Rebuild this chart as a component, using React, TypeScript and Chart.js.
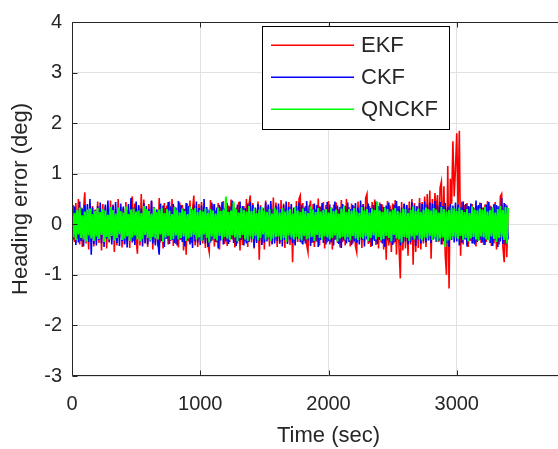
import { useEffect, useRef } from "react";
import { Chart, registerables } from "chart.js";

Chart.register(...registerables);

// sampling interval of the recorded series (sec)
const SAMPLE_INTERVAL_SEC = 10;

const SERIES_LABELS = ["EKF", "CKF", "QNCKF"];
const SERIES_COLORS = ["#ff0000", "#0000ff", "#00ff00"];
const SERIES_WIDTHS = [1.6, 1.6, 2.0];

const X_TICKS = [0, 1000, 2000, 3000];
const Y_TICKS = [-3, -2, -1, 0, 1, 2, 3, 4];
const X_MIN = 0;
const X_MAX = 4000;
const Y_MIN = -3;
const Y_MAX = 4;

const EKF = [
  -0.62, 0.38, -0.35, 0.42, -0.28, 0.5, -0.4, 0.33, -0.45, 0.3, 0.63, -0.38, 0.27, -0.5, 0.41, -0.3, 0.36, -0.44, 0.29, -0.33,
  0.45, -0.37, 0.31, -0.52, 0.4, -0.29, 0.35, -0.48, 0.26, -0.36, 0.47, -0.31, 0.39, -0.55, 0.3, -0.42, 0.5, -0.27, 0.34, -0.46,
  0.32, -0.4, 0.44, -0.35, 0.28, -0.47, 0.38, 0.55, -0.33, 0.41, -0.3, -0.58, 0.36, -0.42, 0.6, -0.29, 0.49, -0.38, 0.3, -0.45,
  0.4, -0.32, 0.46, -0.5, 0.33, -0.38, 0.29, -0.44, 0.52, -0.36, 0.31, -0.48, 0.42, -0.28, 0.37, -0.4, 0.45, -0.33, 0.5, -0.43,
  0.35, -0.39, 0.28, -0.46, 0.43, -0.31, 0.38, -0.52, 0.3, -0.6, 0.41, -0.34, 0.47, -0.37, 0.29, 0.57, -0.42, 0.33, -0.45, 0.4,
  -0.3, 0.44, -0.38, 0.36, -0.47, 0.31, -0.41, -0.55, 0.48, -0.33, 0.39, -0.44, 0.27, -0.36, 0.42, -0.5, 0.34, -0.29, 0.46, -0.39,
  0.31, -0.43, 0.37, -0.35, 0.49, -0.3, 0.4, -0.46, 0.33, -0.38, 0.44, -0.52, 0.28, -0.41, 0.36, -0.34, 0.5, -0.45, 0.39, 0.57,
  -0.36, 0.42, -0.48, 0.3, -0.33, 0.45, -0.7, 0.38, -0.4, 0.32, -0.5, 0.47, -0.29, 0.35, -0.44, 0.4, -0.37, 0.53, -0.31, 0.43,
  -0.45, 0.34, -0.39, 0.48, -0.32, 0.41, -0.47, 0.3, -0.36, 0.44, -0.41, 0.37, -0.75, 0.33, -0.4, 0.46, -0.35, 0.5, 0.57, -0.38,
  0.42, -0.33, 0.36, -0.41, -0.55, 0.31, 0.47, -0.37, 0.4, -0.45, 0.29, -0.34, 0.51, -0.42, 0.35, -0.3, 0.44, -0.48, 0.38, -0.36,
  0.46, -0.4, 0.33, -0.5, 0.39, -0.31, 0.43, -0.37, 0.3, -0.46, 0.48, -0.35, 0.37, -0.42, 0.5, -0.29, 0.34, -0.44, 0.41, -0.38,
  0.35, -0.43, -0.55, 0.45, -0.32, 0.38, -0.47, 0.4, -0.34, 0.52, 0.6, -0.39, 0.36, -0.45, 0.44, -0.3, 0.49, -0.41, 0.33, -0.48,
  0.43, -0.36, 0.39, -0.5, 0.34, -0.7, 0.46, -0.42, 0.37, -0.55, 0.41, -0.38, 0.48, -0.6, 0.35, -0.45, -1.07, 0.44, -0.52, 0.4,
  -0.48, 0.38, -0.62, 0.45, -0.4, 0.5, -0.8, 0.42, -0.55, 0.36, -0.47, 0.52, -0.5, 0.44, -0.38, 0.55, -0.45, 0.6, -0.3, 0.67,
  -0.68, 0.5, -0.25, 0.62, 0.2, 0.58, -0.35, 0.72, 0.84, -0.4, 0.75, -0.6, -1.0, 1.15, -1.27, 0.9, 0.4, 1.64, 0.55, 1.1,
  1.8, 0.3, 1.85, -0.62, 0.45, -0.4, 0.38, -0.3, 0.42, -0.45, 0.35, -0.33, 0.4, -0.38, 0.31, -0.44, 0.36, -0.29, 0.43, -0.37,
  0.33, -0.41, 0.39, -0.35, 0.46, -0.3, 0.37, -0.43, 0.3, -0.38, 0.44, -0.5, 0.35, -0.4, 0.55, 0.6, -0.45, -0.75, 0.4, -0.65,
  0.3,
];

const CKF = [
  0.42, -0.3, 0.35, -0.41, 0.28, -0.36, 0.45, -0.33, 0.31, -0.44, 0.38, -0.29, 0.4, -0.35, 0.5, -0.6, 0.33, -0.39, 0.27, -0.42,
  0.36, -0.31, 0.43, -0.38, 0.3, -0.45, 0.39, -0.28, 0.47, -0.34, 0.32, -0.4, 0.37, -0.3, 0.44, -0.37, 0.29, -0.43, 0.41, -0.33,
  0.35, -0.39, 0.28, -0.46, 0.4, -0.32, 0.52, -0.36, 0.33, -0.41, 0.45, -0.3, 0.38, -0.35, 0.31, -0.44, 0.42, -0.37, 0.36, -0.4,
  0.3, -0.34, 0.47, -0.38, 0.34, -0.42, 0.29, -0.36, -0.6, 0.41, -0.33, 0.37, -0.45, 0.32, -0.29, 0.44, -0.39, 0.35, -0.31, 0.4,
  -0.37, 0.33, -0.42, 0.46, -0.3, 0.38, -0.35, 0.31, -0.44, 0.42, -0.32, 0.36, -0.4, 0.3, -0.47, 0.39, -0.34, 0.45, -0.36, 0.32,
  -0.41, 0.37, -0.31, 0.5, -0.38, 0.34, -0.45, 0.29, -0.36, 0.43, -0.3, 0.4, -0.35, 0.33, -0.48, 0.38, -0.32, 0.44, -0.4, 0.31,
  -0.34, 0.42, -0.39, 0.35, -0.29, 0.47, -0.37, 0.3, -0.43, 0.39, -0.33, 0.45, -0.31, 0.36, -0.42, 0.32, -0.38, 0.41, -0.35, 0.44,
  -0.3, 0.38, -0.46, 0.33, -0.37, 0.4, -0.32, 0.35, -0.41, 0.29, -0.36, 0.43, -0.34, 0.39, -0.3, 0.46, -0.4, 0.31, -0.38, 0.37,
  -0.33, 0.41, -0.36, 0.3, -0.44, 0.38, -0.31, 0.45, -0.39, 0.34, -0.3, 0.4, -0.37, 0.32, -0.42, 0.36, -0.29, 0.43, -0.35, 0.39,
  -0.4, 0.33, -0.38, 0.46, -0.32, 0.37, -0.43, 0.3, -0.36, 0.41, -0.34, 0.38, -0.45, 0.35, -0.31, 0.42, -0.37, 0.29, -0.4, 0.44,
  -0.33, 0.39, -0.36, 0.31, -0.42, 0.45, -0.3, 0.37, -0.39, 0.34, -0.47, 0.4, -0.32, 0.36, -0.38, 0.43, -0.35, 0.3, -0.41, 0.38,
  -0.34, 0.42, -0.37, 0.33, -0.4, 0.47, -0.31, 0.39, -0.44, 0.35, -0.3, 0.41, -0.36, 0.32, -0.43, 0.38, -0.33, 0.45, -0.39, 0.36,
  -0.31, 0.4, -0.38, 0.34, -0.45, 0.37, -0.32, 0.43, -0.36, 0.3, -0.41, 0.39, -0.35, 0.46, -0.3, 0.36, -0.42, 0.33, -0.37, 0.41,
  -0.34, 0.38, -0.4, 0.32, -0.36, 0.44, -0.31, 0.37, -0.43, 0.35, -0.3, 0.42, -0.38, 0.4, -0.33, 0.45, -0.36, 0.39, -0.32, 0.43,
  -0.37, 0.41, -0.3, 0.46, -0.35, 0.38, -0.32, 0.44, -0.4, 0.36, -0.33, 0.42, -0.38, 0.35, -0.45, 0.4, -0.31, 0.37, -0.36, 0.43,
  -0.34, 0.39, -0.42, 0.33, -0.37, 0.45, -0.3, 0.4, -0.44, 0.36, -0.32, 0.41, -0.38, 0.34, -0.4, 0.47, -0.35, 0.38, -0.31, 0.42,
  -0.36, 0.33, -0.41, 0.39, -0.3, 0.44, -0.37, 0.35, -0.43, 0.4, -0.32, 0.38, -0.45, 0.36, -0.34, 0.52, -0.39, 0.42, -0.4, 0.37,
  -0.3,
];

const QNCKF = [
  0.3, -0.26, 0.22, -0.31, 0.28, -0.2, 0.33, -0.27, 0.18, -0.3, 0.25, -0.34, 0.29, -0.22, 0.31, -0.28, 0.2, -0.33, 0.26, -0.24,
  0.32, -0.29, 0.24, -0.21, 0.3, -0.35, 0.27, -0.25, 0.19, -0.3, 0.34, -0.23, 0.28, -0.32, 0.21, -0.27, 0.33, -0.2, 0.26, -0.31,
  0.23, -0.28, 0.35, -0.24, 0.2, -0.33, 0.29, -0.26, 0.31, -0.22, 0.25, -0.3, 0.27, -0.34, 0.22, -0.29, 0.36, -0.21, 0.3, -0.27,
  0.26, -0.32, 0.21, -0.25, 0.33, -0.28, 0.24, -0.3, 0.29, -0.2, 0.32, -0.35, 0.22, -0.26, 0.3, -0.23, 0.27, -0.31, 0.2, -0.29,
  0.34, -0.22, 0.28, -0.3, 0.23, -0.27, 0.31, -0.24, 0.26, -0.33, 0.2, -0.28, 0.35, -0.25, 0.29, -0.21, 0.32, -0.3, 0.24, -0.26,
  0.28, -0.33, 0.25, -0.2, 0.31, -0.27, 0.22, -0.36, 0.3, -0.24, 0.27, -0.29, 0.21, -0.32, 0.33, -0.23, 0.26, -0.3, 0.29, -0.25,
  0.55, -0.28, 0.24, -0.31, 0.27, -0.22, 0.45, -0.26, 0.3, -0.34, 0.23, -0.27, 0.32, -0.21, 0.28, -0.3, 0.25, -0.33, 0.36, -0.24,
  0.26, -0.29, 0.31, -0.23, 0.22, -0.32, 0.29, -0.27, 0.34, -0.2, 0.27, -0.3, 0.24, -0.26, 0.3, -0.33, 0.21, -0.28, 0.33, -0.25,
  0.29, -0.24, 0.23, -0.31, 0.32, -0.27, 0.25, -0.35, 0.28, -0.22, 0.3, -0.26, 0.21, -0.3, 0.34, -0.25, 0.27, -0.29, 0.24, -0.32,
  0.31, -0.23, 0.26, -0.3, 0.22, -0.28, 0.35, -0.25, 0.29, -0.33, 0.24, -0.21, 0.32, -0.27, 0.25, -0.31, 0.28, -0.24, 0.3, -0.26,
  0.23, -0.3, 0.33, -0.27, 0.26, -0.22, 0.29, -0.34, 0.21, -0.28, 0.31, -0.25, 0.36, -0.3, 0.24, -0.26, 0.3, -0.32, 0.27, -0.23,
  0.32, -0.28, 0.25, -0.31, 0.22, -0.26, 0.34, -0.29, 0.27, -0.24, 0.3, -0.33, 0.23, -0.27, 0.31, -0.22, 0.28, -0.3, 0.45, -0.25,
  0.27, -0.32, 0.24, -0.29, 0.33, -0.23, 0.3, -0.27, 0.25, -0.34, 0.29, -0.21, 0.32, -0.28, 0.26, -0.3, 0.23, -0.36, 0.31, -0.25,
  0.3, -0.27, 0.22, -0.33, 0.28, -0.24, 0.35, -0.3, 0.26, -0.22, 0.31, -0.29, 0.24, -0.32, 0.29, -0.26, 0.33, -0.28, 0.3, -0.23,
  0.27, -0.31, 0.32, -0.25, 0.29, -0.34, 0.23, -0.28, 0.34, -0.26, 0.3, -0.45, 0.25, -0.32, 0.28, -0.3, 0.33, -0.24, 0.31, -0.27,
  0.26, -0.29, 0.33, -0.23, 0.28, -0.31, 0.24, -0.27, 0.3, -0.34, 0.22, -0.28, 0.35, -0.25, 0.29, -0.3, 0.27, -0.33, 0.31, -0.24,
  0.29, -0.26, 0.34, -0.3, 0.25, -0.32, 0.28, -0.24, 0.33, -0.29, 0.23, -0.35, 0.3, -0.27, 0.36, -0.25, 0.28, -0.31, 0.34, -0.38,
  0.32,
];

const SERIES = [EKF, CKF, QNCKF];

const FONT_FAMILY = "'Liberation Sans', Arial, Helvetica, sans-serif";
const TEXT_COLOR = "#262626";

const toPoints = (vals: number[]) =>
  vals.map((y, i) => ({ x: i * SAMPLE_INTERVAL_SEC, y }));

const framePlugin = {
  id: "matlabFrame",
  afterDraw(chart: any) {
    const { ctx, chartArea, scales } = chart;
    const { left, right, top, bottom } = chartArea;
    const xs = scales.x;
    const ys = scales.y;
    const L = Math.round(left) + 0.5;
    const B = Math.round(bottom) - 0.5;
    const T = Math.round(top) + 0.5;
    const R = Math.round(right) - 0.5;
    ctx.save();
    ctx.strokeStyle = TEXT_COLOR;
    ctx.lineWidth = 1;
    ctx.beginPath();
    ctx.moveTo(L, T);
    ctx.lineTo(L, B);
    ctx.lineTo(R, B);
    ctx.moveTo(L, T);
    ctx.lineTo(R, T);
    ctx.lineTo(R, B);
    const tl = 5;
    [...X_TICKS, X_MAX].forEach((v) => {
      const px = Math.round(xs.getPixelForValue(v)) + 0.5;
      ctx.moveTo(px, B);
      ctx.lineTo(px, B - tl);
      ctx.moveTo(px, T);
      ctx.lineTo(px, T + tl);
    });
    Y_TICKS.forEach((v) => {
      const py = Math.round(ys.getPixelForValue(v)) + 0.5;
      ctx.moveTo(L, py);
      ctx.lineTo(L + tl, py);
      ctx.moveTo(R, py);
      ctx.lineTo(R - tl, py);
    });
    ctx.stroke();

    // legend box
    const bx = 262.5;
    const by = 26.5;
    const bw = 187;
    const bh = 103;
    ctx.fillStyle = "#ffffff";
    ctx.fillRect(bx, by, bw, bh);
    ctx.strokeStyle = "#000000";
    ctx.lineWidth = 1;
    ctx.strokeRect(bx, by, bw, bh);
    const rows = [45, 77, 109];
    ctx.font = `22px ${FONT_FAMILY}`;
    ctx.textBaseline = "middle";
    ctx.textAlign = "left";
    SERIES_LABELS.forEach((label, i) => {
      ctx.strokeStyle = SERIES_COLORS[i];
      ctx.lineWidth = 1.5;
      ctx.beginPath();
      ctx.moveTo(271, rows[i] + 0.25);
      ctx.lineTo(354, rows[i] + 0.25);
      ctx.stroke();
      ctx.fillStyle = TEXT_COLOR;
      ctx.fillText(label, 361, rows[i] + 1);
    });
    ctx.restore();
  },
};

export default function App() {
  const ref = useRef<HTMLCanvasElement | null>(null);

  useEffect(() => {
    if (!ref.current) return;
    const chart = new Chart(ref.current, {
      type: "line",
      data: {
        datasets: SERIES.map((vals, i) => ({
          label: SERIES_LABELS[i],
          data: toPoints(vals),
          borderColor: SERIES_COLORS[i],
          backgroundColor: SERIES_COLORS[i],
          borderWidth: SERIES_WIDTHS[i],
          pointRadius: 0,
          tension: 0,
          fill: false,
          order: SERIES.length - i,
        })),
      },
      options: {
        animation: false,
        responsive: false,
        devicePixelRatio: 1,
        events: [],
        layout: { padding: { left: 0, right: 0, top: 15, bottom: 0 } },
        plugins: {
          legend: { display: false },
          tooltip: { enabled: false },
        },
        scales: {
          x: {
            type: "linear",
            min: X_MIN,
            max: X_MAX,
            afterBuildTicks: (s: any) => {
              s.ticks = X_TICKS.map((v) => ({ value: v }));
            },
            afterFit: (s: any) => {
              s.height = 73;
            },
            grid: { color: "#e1e1e1", drawTicks: false, lineWidth: 1 },
            border: { display: false },
            ticks: {
              color: TEXT_COLOR,
              font: { family: FONT_FAMILY, size: 20 },
              padding: 16,
              maxRotation: 0,
              callback: (v: any) => String(v),
            },
            title: {
              display: true,
              text: "Time (sec)",
              color: TEXT_COLOR,
              font: { family: FONT_FAMILY, size: 22 },
              padding: { top: 0, bottom: 0 },
            },
          },
          y: {
            type: "linear",
            min: Y_MIN,
            max: Y_MAX,
            afterBuildTicks: (s: any) => {
              s.ticks = Y_TICKS.map((v) => ({ value: v }));
            },
            afterFit: (s: any) => {
              s.width = 72;
            },
            grid: { color: "#e1e1e1", drawTicks: false, lineWidth: 1 },
            border: { display: false },
            ticks: {
              color: TEXT_COLOR,
              font: { family: FONT_FAMILY, size: 20 },
              padding: 10,
              callback: (v: any) => String(v),
            },
            title: {
              display: true,
              text: "Heading error (deg)",
              color: TEXT_COLOR,
              font: { family: FONT_FAMILY, size: 22 },
              padding: { top: 8, bottom: 0 },
            },
          },
        },
      },
      plugins: [framePlugin],
    });
    return () => chart.destroy();
  }, []);

  return (
    <div
      style={{
        position: "fixed",
        left: 0,
        top: 0,
        width: 558,
        height: 449,
        overflow: "hidden",
        background: "#ffffff",
      }}
    >
      <canvas ref={ref} width={585} height={449} style={{ display: "block" }} />
    </div>
  );
}
